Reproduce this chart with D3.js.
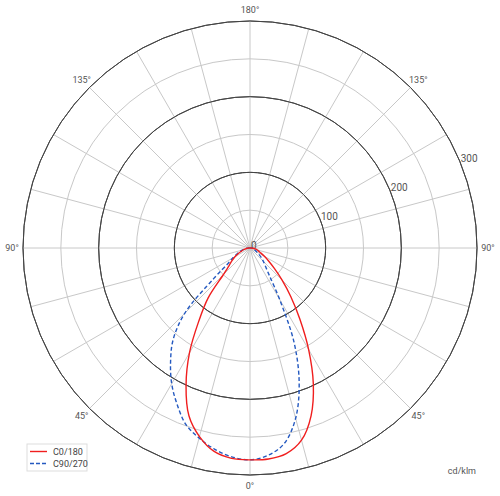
<!DOCTYPE html>
<html lang="en">
<head>
<meta charset="UTF-8">
<title>Polar intensity chart</title>
<script src="https://d3js.org/d3.v7.min.js"></script>
<style>
  body { margin: 0; background: #fff; }
  text { font-family: Roboto, "Noto Sans", sans-serif; }
</style>
</head>
<body>
<svg id="chart" width="500" height="496"></svg>
<script>
// gamma angles, 0 = straight down
const gammas = d3.range(0, 181, 5);

// C0/180 (red) - right half C0, left half C180
const c0 = [280, 280, 276, 263, 236, 198, 155, 115, 84, 60, 42, 30, 22, 16, 12, 10, 7, 4, 2, 1,
  0, 0, 0, 0, 0, 0, 0, 0, 0, 0, 0, 0, 0, 0, 0, 0, 0];
const c180 = [280, 279, 273, 258, 236, 200, 160, 118, 86, 50, 36, 29, 23, 17, 12, 9, 6, 4, 2, 1,
  0, 0, 0, 0, 0, 0, 0, 0, 0, 0, 0, 0, 0, 0, 0, 0, 0];
// C90/270 (blue dashed) - right half C90, left half C270
const c90 = [280, 275, 262, 233, 190, 138, 78, 45, 32, 25, 19, 14, 10, 8, 6, 5, 4, 3, 2, 1,
  0, 0, 0, 0, 0, 0, 0, 0, 0, 0, 0, 0, 0, 0, 0, 0, 0];
const c270 = [280, 277, 270, 260, 248, 228, 207, 183, 158, 122, 62, 35, 26, 19, 14, 10, 7, 4, 2, 1,
  0, 0, 0, 0, 0, 0, 0, 0, 0, 0, 0, 0, 0, 0, 0, 0, 0];

const ringValues = [50, 100, 150, 200, 250, 300];
const majorRings = [100, 200, 300];
const radialLabels = [0, 100, 200, 300];
const angleLabels = [0, 45, 90, 135, 180];

const svg = d3.select("#chart");
const cx = 250, cy = 248;
const r = d3.scaleLinear().domain([0, 300]).range([0, 227]);

const g = svg.append("g").attr("transform", `translate(${cx},${cy})`);

// rings
g.selectAll(".ring")
  .data(ringValues)
  .enter().append("circle")
  .attr("r", d => r(d))
  .attr("fill", "none")
  .attr("stroke", d => majorRings.includes(d) ? "#444" : "#c8c8c8")
  .attr("stroke-width", 1);

// spokes every 15 deg
g.selectAll(".spoke")
  .data(d3.range(0, 360, 15))
  .enter().append("line")
  .attr("x1", 0).attr("y1", 0)
  .attr("x2", d => r(300) * Math.sin(d * Math.PI / 180))
  .attr("y2", d => r(300) * Math.cos(d * Math.PI / 180))
  .attr("stroke", "#c8c8c8")
  .attr("stroke-width", 1);

// redraw major rings on top of spokes
g.selectAll(".major")
  .data(majorRings)
  .enter().append("circle")
  .attr("r", d => r(d))
  .attr("fill", "none")
  .attr("stroke", "#444")
  .attr("stroke-width", 1);

// angle labels on both sides
const labR = 238;
const angData = [];
angleLabels.forEach(a => {
  angData.push(a);
  if (a !== 0 && a !== 180) angData.push(-a);
});
g.selectAll(".alab")
  .data(angData)
  .enter().append("text")
  .attr("x", d => labR * Math.sin(d * Math.PI / 180))
  .attr("y", d => labR * Math.cos(d * Math.PI / 180))
  .attr("text-anchor", "middle")
  .attr("dominant-baseline", "central")
  .attr("font-size", 9)
  .attr("fill", "#555")
  .text(d => Math.abs(d) + "°");

// radial value labels along 67.5 deg (22.5 above horizontal)
const la = 22.5 * Math.PI / 180;
g.selectAll(".rlab")
  .data(radialLabels)
  .enter().append("text")
  .attr("x", d => r(d) * Math.cos(la) + 1)
  .attr("y", d => -r(d) * Math.sin(la) - 3)
  .attr("dominant-baseline", "central")
  .attr("font-size", 10)
  .attr("fill", "#555")
  .text(d => d);

// curves
function pts(left, right) {
  const p = [];
  for (let i = gammas.length - 1; i >= 0; i--) p.push([Math.PI + gammas[i] * Math.PI / 180, r(left[i])]);
  for (let i = 1; i < gammas.length; i++) p.push([Math.PI - gammas[i] * Math.PI / 180, r(right[i])]);
  return p;
}
const line = d3.lineRadial()
  .angle(d => d[0])
  .radius(d => d[1])
  .curve(d3.curveCatmullRom);

g.append("path")
  .attr("d", line(pts(c270, c90)))
  .attr("fill", "none")
  .attr("stroke", "#2459c0")
  .attr("stroke-width", 1.4)
  .attr("stroke-dasharray", "4,2.5");

g.append("path")
  .attr("d", line(pts(c180, c0)))
  .attr("fill", "none")
  .attr("stroke", "#f01e1e")
  .attr("stroke-width", 1.4);

// legend
const leg = svg.append("g").attr("transform", "translate(27,444)");
leg.append("rect")
  .attr("width", 60).attr("height", 27)
  .attr("fill", "#fff")
  .attr("stroke", "#ddd");
const items = [["C0/180", "#f01e1e", null], ["C90/270", "#2459c0", "4,2"]];
items.forEach((it, i) => {
  const y = 7.5 + i * 12;
  leg.append("line")
    .attr("x1", 3).attr("x2", 20).attr("y1", y).attr("y2", y)
    .attr("stroke", it[1]).attr("stroke-width", 1.4)
    .attr("stroke-dasharray", it[2]);
  leg.append("text")
    .attr("x", 26).attr("y", y)
    .attr("dominant-baseline", "central")
    .attr("font-size", 9)
    .attr("fill", "#444")
    .text(it[0]);
});

svg.append("text")
  .attr("x", 476).attr("y", 471)
  .attr("text-anchor", "end")
  .attr("dominant-baseline", "central")
  .attr("font-size", 9)
  .attr("fill", "#555")
  .text("cd/klm");
</script>
</body>
</html>
